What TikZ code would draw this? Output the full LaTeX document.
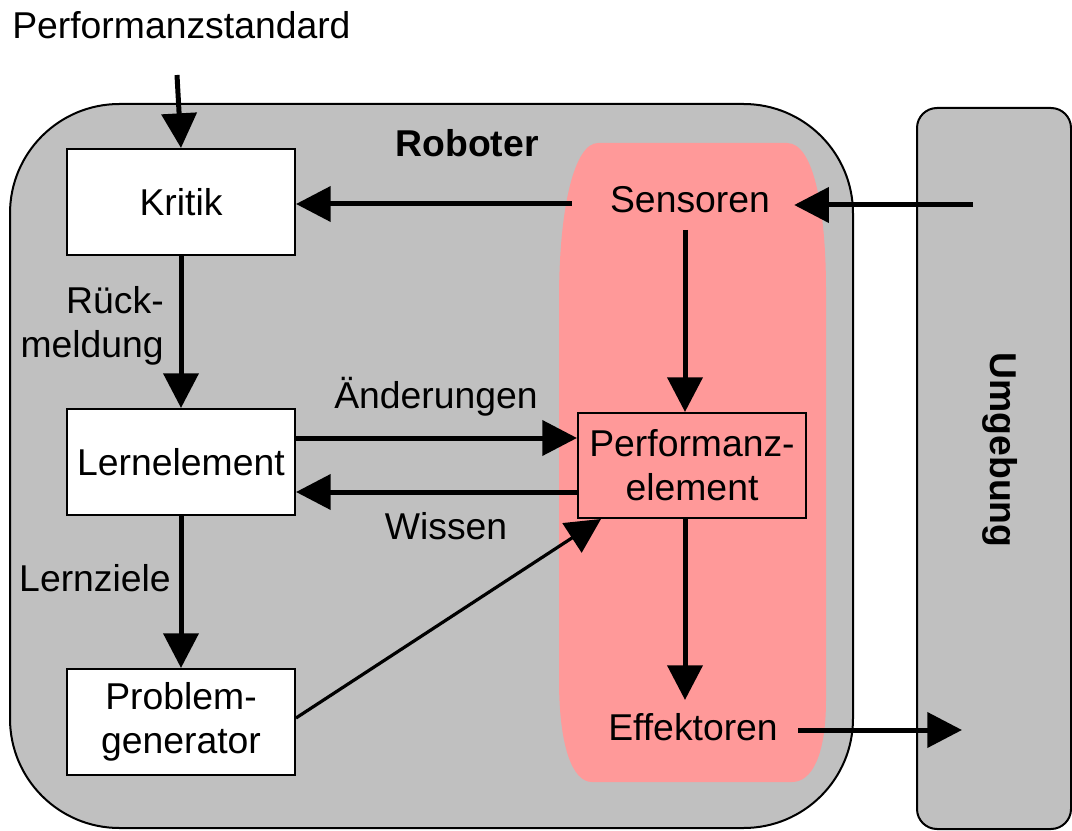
\documentclass[tikz,border=0pt]{standalone}
\usepackage{fontspec}
\setmainfont{Liberation Sans}
\usetikzlibrary{arrows.meta}
\definecolor{robgray}{RGB}{192,192,192}
\definecolor{pinkz}{RGB}{255,153,153}
\tikzset{
  every node/.style={font=\fontsize{28}{33}\selectfont},
  box/.style={draw=black, line width=1.5pt, fill=white, minimum width=171pt,
    minimum height=79.5pt, inner sep=0pt, align=center},
  lbl/.style={inner sep=0pt, align=center},
  flow/.style={line width=3.75pt, -{Triangle[length=26pt,width=26pt]}},
  thinflow/.style={line width=2.4pt, -{Triangle[length=26pt,width=26pt]}},
  frame/.style={draw=black, line width=1.5pt, fill=robgray},
}
\begin{document}
\begin{tikzpicture}[x=0.75pt,y=-0.75pt]
\useasboundingbox (0,0) rectangle (1072,831);
\clip (0,0) rectangle (1072,831);
% Robot frame
\path[frame, rounded corners=82pt] (10,104) rectangle (853,828);
% Environment frame
\path[frame, rounded corners=15pt] (917,108) rectangle (1071,829);
% pink region
\fill[pinkz] (598,143) -- (787,143) .. controls (815,143) and (826,215) .. (826,290)
  -- (826,700) .. controls (826,755) and (812,782) .. (792,782)
  -- (592,782) .. controls (572,782) and (559,745) .. (559,680)
  -- (559,300) .. controls (559,205) and (575,143) .. (598,143);

% texts
\node[lbl, anchor=west] (ps) at (12,25) {Performanzstandard};
\coordinate (psend) at (177,75);
\node[lbl] (rob) at (467,143) {\bfseries Roboter};
\node[lbl, rotate=-90] (umg) at (1000,450) {\bfseries Umgebung};

% boxes
\node[box] (kritik) at (181,202) {Kritik};
\node[box] (lern) at (181,462) {Lernelement};
\node[box] (prob) at (181,722) {Problem-\\generator};
\node[box, fill=pinkz, minimum height=78.75pt] (perf) at (692,465.5) {Performanz-\\element};

\node[lbl] (sens) at (690,200) {Sensoren};
\node[lbl] (eff) at (693,727) {Effektoren};

\node[lbl, align=right, anchor=east] (rm) at (164,326) {Rück-\\meldung};
\node[lbl] (aend) at (436,397) {Änderungen};
\node[lbl] (wiss) at (446,526) {Wissen};
\node[lbl] (lz) at (95,578) {Lernziele};

\coordinate (envin) at (973,205);
\coordinate (envout) at (962,730);
\coordinate (vx) at (685,0);

% connectors
\draw[flow] (psend) -- (kritik.north);
\draw[flow] ([xshift=-28.5pt]sens.west |- {0,204}) -- (kritik.east |- {0,204});
\draw[flow] (envin) -- ([xshift=18pt]sens.east |- envin);
\draw[flow] (vx |- {0,230}) -- (vx |- perf.north);
\draw[flow] (kritik.south) -- (lern.north);
\draw[flow] (lern.east |- {0,438}) -- (perf.west |- {0,438});
\draw[flow] (perf.west |- {0,492}) -- (lern.east |- {0,492});
\draw[flow] (lern.south) -- (prob.north);
\draw[thinflow] (prob.east |- {0,718}) -- ([xshift=18pt]perf.south west);
\draw[flow] (vx |- perf.south) -- (vx |- {0,700});
\draw[flow] ([xshift=15pt]eff.east |- envout) -- (envout);
\end{tikzpicture}
\end{document}
